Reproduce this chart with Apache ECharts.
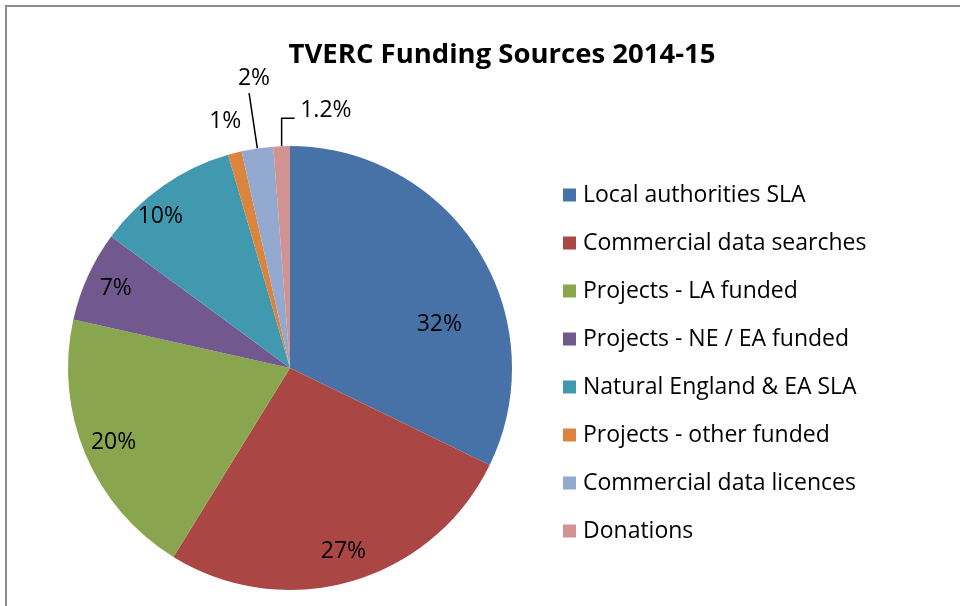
<!DOCTYPE html>
<html>
<head>
<meta charset="utf-8">
<script src="https://cdn.jsdelivr.net/npm/echarts@6/dist/echarts.min.js"></script>
<style>
  html, body { margin: 0; padding: 0; background: #fff; }
  #frame { position: absolute; left: 5px; top: 5px; width: 960px; height: 606px;
           border-left: 2px solid #8c8c8c; border-top: 2px solid #8c8c8c; }
  #echarts { position: absolute; left: 0; top: 0; width: 960px; height: 606px; }
</style>
</head>
<body>
<div id="frame"></div>
<div id="echarts"></div>
<script>
var categories = ['Local authorities SLA', 'Commercial data searches', 'Projects - LA funded',
    'Projects - NE / EA funded', 'Natural England & EA SLA', 'Projects - other funded',
    'Commercial data licences', 'Donations'];
var shares = [32.2, 26.6, 19.7, 6.6, 10.4, 1.0, 2.3, 1.2];
var labelText = ['32%', '27%', '20%', '7%', '10%', '1%', '2%', '1.2%'];
var colors = ['#4672A8', '#AA4744', '#89A54E', '#71598F', '#4199AF', '#DB843D', '#93A9CF', '#D19392'];
var smallSlice = [false, false, false, false, false, true, true, true];

var font = 'Open Sans';

// leader lines of the small slices: [length, length2]
var leader = { 5: [10, 0], 6: [56, 0], 7: [28, -14] };
// label nudges, Excel "best fit" puts some labels off the mid angle
var outerNudge = { 5: [14, -22], 6: [26, -15], 7: [62, -8] };
var innerNudge = { 0: [-13, 58], 4: [-20, 5] };

function ShowEchart() {
    var pieData = [];
    var overlayData = [];
    for (var i = 0; i < categories.length; i++) {
        var item = {
            name: categories[i],
            value: shares[i],
            itemStyle: { color: colors[i] },
            label: smallSlice[i] ? { show: true, position: 'outside' } : { show: false },
            labelLine: { show: smallSlice[i] && i !== 5 }
        };
        if (leader[i]) {
            item.labelLine.length = leader[i][0];
            item.labelLine.length2 = leader[i][1];
        }
        pieData.push(item);
        overlayData.push({
            name: categories[i],
            value: shares[i],
            label: { show: !smallSlice[i] }
        });
    }

    var option = {
        animation: false,
        title: {
            text: 'TVERC Funding Sources 2014-15',
            left: 497,
            textAlign: 'center',
            top: 36,
            textStyle: { fontFamily: font, fontSize: 27.5, fontWeight: 'bold', color: '#000' }
        },
        legend: {
            orient: 'vertical',
            left: 563,
            top: 182,
            padding: 0,
            itemWidth: 13,
            itemHeight: 13,
            itemGap: 22,
            icon: 'rect',
            data: categories,
            selectedMode: false,
            textStyle: { fontFamily: font, fontSize: 23, lineHeight: 26, color: '#000', padding: [0, 0, 0, 2] }
        },
        series: [{
            name: 'main',
            type: 'pie',
            center: [290, 368],
            radius: 222,
            startAngle: 90,
            clockwise: true,
            silent: true,
            avoidLabelOverlap: false,
            itemStyle: { borderWidth: 0 },
            label: {
                fontFamily: font, fontSize: 23, color: '#000',
                formatter: function (p) { return labelText[p.dataIndex]; }
            },
            labelLine: { length: 10, length2: 0, lineStyle: { color: '#000', width: 1.5 } },
            labelLayout: function (p) {
                var n = outerNudge[p.dataIndex];
                return n ? { dx: n[0], dy: n[1] } : {};
            },
            data: pieData
        }, {
            name: 'labels',
            type: 'pie',
            center: [290, 368],
            radius: [155, 222],
            startAngle: 90,
            clockwise: true,
            silent: true,
            itemStyle: { color: 'transparent' },
            label: {
                position: 'inside',
                fontFamily: font, fontSize: 23, color: '#000',
                formatter: function (p) { return labelText[p.dataIndex]; }
            },
            labelLayout: function (p) {
                var n = innerNudge[p.dataIndex];
                return n ? { dx: n[0], dy: n[1] } : {};
            },
            labelLine: { show: false },
            data: overlayData
        }]
    };

    var dom = document.getElementById('echarts');
    var myChart = echarts.init(dom);
    myChart.setOption(option, true);
}

ShowEchart();
</script>
</body>
</html>
